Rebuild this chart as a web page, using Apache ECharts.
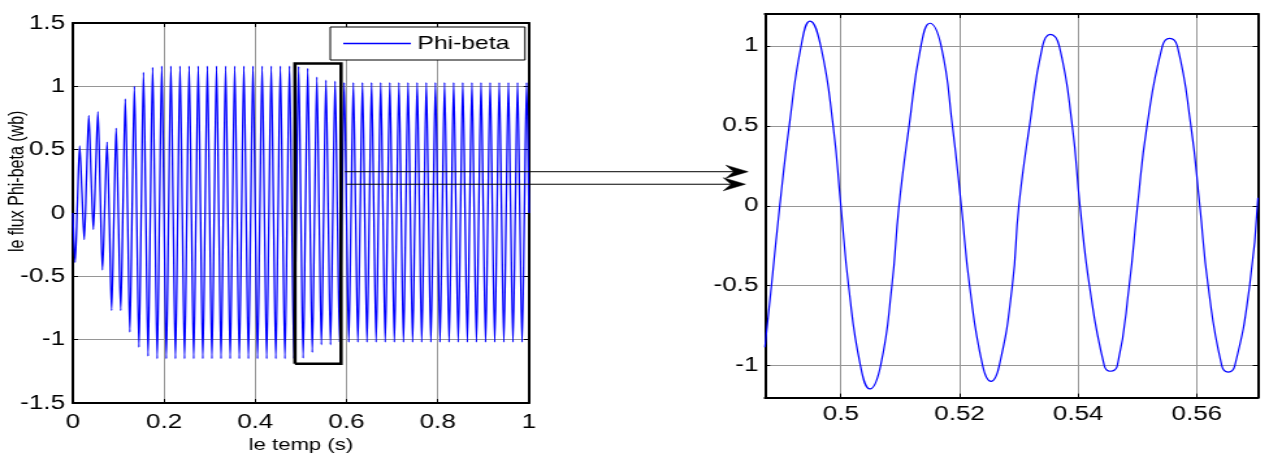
<!DOCTYPE html>
<html><head><meta charset="utf-8">
<script src="https://cdn.jsdelivr.net/npm/echarts@6/dist/echarts.min.js"></script>
<style>
html,body{margin:0;padding:0;background:#fff;overflow:hidden;width:1269px;height:458px}
#chart{width:976px;height:458px;transform:scaleX(1.3002);transform-origin:0 0;}
</style>
</head><body><div id="chart"></div>
<script>
// ---- data ----
const seriesName = 'Phi-beta';
const xTitle = 'le temp (s)';
const yTitle = 'le flux Phi-beta (wb)';

// left panel: samples every 5 ms (t = 0 .. 1 s), values read per quarter cycle
const leftStep = 0.005;
const leftPhi = [
  0, -0.39, 0.07, 0.53,
  0.16, -0.21, 0.28, 0.77,
  0.30, -0.13, 0.33, 0.80,
  0.17, -0.45, 0.05, 0.56,
  -0.05, -0.77, -0.05, 0.67,
  -0.05, -0.77, 0.06, 0.90,
  0.02, -0.94, 0.03, 1.00,
  0.01, -1.06, 0.02, 1.11,
  0.01, -1.13, 0.01, 1.15,
  0, -1.15, 0, 1.16,
  0, -1.15, 0, 1.16,
  0, -1.15, 0, 1.16,
  0, -1.15, 0, 1.16,
  0, -1.15, 0, 1.16,
  0, -1.15, 0, 1.16,
  0, -1.15, 0, 1.16,
  0, -1.15, 0, 1.16,
  0, -1.15, 0, 1.16,
  0, -1.15, 0, 1.16,
  0, -1.15, 0, 1.16,
  0, -1.15, 0, 1.16,
  0, -1.15, 0, 1.16,
  0, -1.15, 0, 1.16,
  0, -1.15, 0, 1.16,
  0, -1.15, 0, 1.156,
  0, -1.146, 0, 1.142,
  0, -1.10, 0, 1.073,
  0, -1.04, 0, 1.048,
  0, -1.04, 0, 1.04,
  0, -1.02, 0, 1.03,
  0, -1.02, 0, 1.03,
  0, -1.02, 0, 1.03,
  0, -1.02, 0, 1.03,
  0, -1.02, 0, 1.03,
  0, -1.02, 0, 1.03,
  0, -1.02, 0, 1.03,
  0, -1.02, 0, 1.03,
  0, -1.02, 0, 1.03,
  0, -1.02, 0, 1.03,
  0, -1.02, 0, 1.03,
  0, -1.02, 0, 1.03,
  0, -1.02, 0, 1.03,
  0, -1.02, 0, 1.03,
  0, -1.02, 0, 1.03,
  0, -1.02, 0, 1.03,
  0, -1.02, 0, 1.03,
  0, -1.02, 0, 1.03,
  0, -1.02, 0, 1.03,
  0, -1.02, 0, 1.03,
  0, -1.02, 0, 1.03,
  0
];

// right panel (zoom): points read at crossings of 0, +-0.5, +-1 and at extrema
const rightT = [0.4872, 0.4883, 0.4897, 0.4913, 0.4933, 0.4948, 0.4966, 0.4987, 0.5000, 0.5013,
  0.5033, 0.5049, 0.5067, 0.5086, 0.5098, 0.5115, 0.5135, 0.5150, 0.5169, 0.5188,
  0.5203, 0.5217, 0.5239, 0.5253, 0.5267, 0.5289, 0.5300, 0.5318, 0.5340, 0.5353,
  0.5368, 0.5390, 0.5403, 0.5419, 0.5444, 0.5454, 0.5466, 0.5486, 0.5500, 0.5516,
  0.5542, 0.5554, 0.5567, 0.5590, 0.5605, 0.5619, 0.5642, 0.5653, 0.5664, 0.5689, 0.5703];
const rightPhi = [-0.885, -0.5, 0, 0.5, 1, 1.156, 1, 0.5, 0, -0.5,
  -1, -1.146, -1, -0.5, 0, 0.5, 1, 1.142, 1, 0.5,
  0, -0.5, -1, -1.098, -1, -0.5, 0, 0.5, 1, 1.073,
  1, 0.5, 0, -0.5, -1, -1.035, -1, -0.5, 0, 0.5,
  1, 1.048, 1, 0.5, 0, -0.5, -1, -1.04, -1, -0.5, 0.05];

// axis ranges
const leftXRange = [0, 1];
const leftYRange = [-1.5, 1.5];
const rightXRange = [0.4872, 0.5703];
const rightYRange = [-1.2, 1.2];

// zoom box drawn on the left panel, and arrow levels (left-panel units)
const zoomBoxT = [0.487, 0.588];
const zoomBoxPhi = [-1.19, 1.18];
const arrowPhi = [0.326, 0.227];
// level (left-panel units) at which the y title is centred
const yTitlePhi = 0.25;

// ---- chart ----
const FONT = '"Liberation Sans", Arial, Helvetica, sans-serif';
const BLUE = '#0000ff';
const leftData = leftPhi.map((v, i) => [+(i * leftStep).toFixed(3), v]);
const rightData = rightT.map((t, i) => [t, rightPhi[i]]);
const boxData = [
  [zoomBoxT[0], zoomBoxPhi[0]], [zoomBoxT[0], zoomBoxPhi[1]],
  [zoomBoxT[1], zoomBoxPhi[1]], [zoomBoxT[1], zoomBoxPhi[0]],
  [zoomBoxT[0], zoomBoxPhi[0]]
];

const axisLine = { show: true, onZero: false, lineStyle: { color: '#000', width: 2 } };
const tick = { show: true, inside: true, length: 4, lineStyle: { color: '#000', width: 1 } };
const grayGrid = { show: true, lineStyle: { color: '#969696', width: 1 } };
const label = { color: '#000', fontSize: 20, fontFamily: FONT, lineHeight: 16 };

function mainX(gi, range, extra) {
  return Object.assign({
    type: 'value', gridIndex: gi, min: range[0], max: range[1], position: 'bottom',
    axisLine, axisTick: tick, splitLine: grayGrid,
    axisLabel: Object.assign({ margin: 11, hideOverlap: false }, label)
  }, extra || {});
}
function mirrorX(gi, range) {
  return { type: 'value', gridIndex: gi, min: range[0], max: range[1], position: 'top',
    axisLine, axisTick: tick, splitLine: { show: false }, axisLabel: { show: false } };
}
function mainY(gi, range, extra) {
  return Object.assign({
    type: 'value', gridIndex: gi, min: range[0], max: range[1], position: 'left',
    axisLine, axisTick: tick, splitLine: grayGrid,
    axisLabel: Object.assign({ margin: 6, hideOverlap: false }, label)
  }, extra || {});
}
function mirrorY(gi, range) {
  return { type: 'value', gridIndex: gi, min: range[0], max: range[1], position: 'right',
    axisLine, axisTick: tick, splitLine: { show: false }, axisLabel: { show: false } };
}

const chart = echarts.init(document.getElementById('chart'), null, { renderer: 'canvas' });
chart.setOption({
  backgroundColor: '#fff',
  animation: false,
  grid: [
    { left: 56, top: 23, width: 350.8, height: 380, containLabel: false, outerBoundsMode: 'none' },
    { left: 588.3, top: 14, width: 379.2, height: 383.6, containLabel: false, outerBoundsMode: 'none' }
  ],
  legend: {
    data: [seriesName],
    left: 254, top: 27, orient: 'horizontal',
    icon: 'rect', itemWidth: 52, itemHeight: 1.6,
    itemStyle: { color: BLUE, borderWidth: 0 },
    padding: [7, 12, 7, 10],
    backgroundColor: '#fff', borderColor: '#000', borderWidth: 1, borderRadius: 0,
    textStyle: { color: '#000', fontSize: 19, fontFamily: FONT }
  },
  xAxis: [
    mainX(0, leftXRange, {
      interval: 0.2,
      name: xTitle, nameLocation: 'middle', nameGap: 33,
      nameTextStyle: { color: '#000', fontSize: 17, fontFamily: FONT }
    }),
    mirrorX(0, leftXRange),
    mainX(1, rightXRange, { axisLabel: Object.assign({ margin: 9, showMinLabel: false, showMaxLabel: false }, label) }),
    mirrorX(1, rightXRange)
  ],
  yAxis: [
    mainY(0, leftYRange, { interval: 0.5 }),
    mirrorY(0, leftYRange),
    mainY(1, rightYRange, { axisLabel: Object.assign({ margin: 5, showMinLabel: false, showMaxLabel: false }, label) }),
    mirrorY(1, rightYRange)
  ],
  series: [
    {
      name: seriesName, type: 'line', xAxisIndex: 0, yAxisIndex: 0, data: leftData,
      symbol: 'none', smooth: 0.3, z: 3,
      lineStyle: { color: BLUE, width: 1.3 }, itemStyle: { color: BLUE }
    },
    {
      name: 'box', type: 'line', xAxisIndex: 0, yAxisIndex: 0, data: boxData,
      symbol: 'none', silent: true, z: 5,
      lineStyle: { color: '#000', width: 2.6, join: 'miter' }
    },
    {
      name: 'zoom', type: 'line', xAxisIndex: 2, yAxisIndex: 2, data: rightData,
      symbol: 'none', smooth: 0.5, z: 3,
      lineStyle: { color: BLUE, width: 1.2 }
    }
  ]
});

// arrows from the zoom box to the zoomed panel, and the rotated y title
(function () {
  const startX = chart.convertToPixel({ gridIndex: 0 }, [zoomBoxT[1], 0])[0] + 3;
  const rightEdge = chart.convertToPixel({ gridIndex: 1 }, [rightXRange[0], 0])[0];
  const tips = [rightEdge - 13, rightEdge - 15];
  const g = [];
  arrowPhi.forEach((v, i) => {
    const y = chart.convertToPixel({ gridIndex: 0 }, [0, v])[1];
    const tx = tips[i];
    g.push({ type: 'polyline', shape: { points: [[startX + i, y], [tx - 8, y]] },
      style: { stroke: '#000', lineWidth: 1, fill: null }, z: 10 });
    g.push({ type: 'polygon', shape: { points: [[tx, y], [tx - 17, y - 6.5], [tx - 11, y], [tx - 17, y + 6.5]] },
      style: { fill: '#000', stroke: '#000', lineWidth: 0.5 }, z: 10 });
  });
  const tp = chart.convertToPixel({ gridIndex: 0 }, [leftXRange[0], yTitlePhi]);
  g.push({ type: 'text', x: tp[0] - 42.5, y: tp[1], rotation: Math.PI / 2, z: 10,
    style: { text: yTitle, fill: '#000', fontSize: 16, fontFamily: FONT,
      align: 'center', verticalAlign: 'middle' } });
  chart.setOption({ graphic: g });
})();
</script></body></html>
